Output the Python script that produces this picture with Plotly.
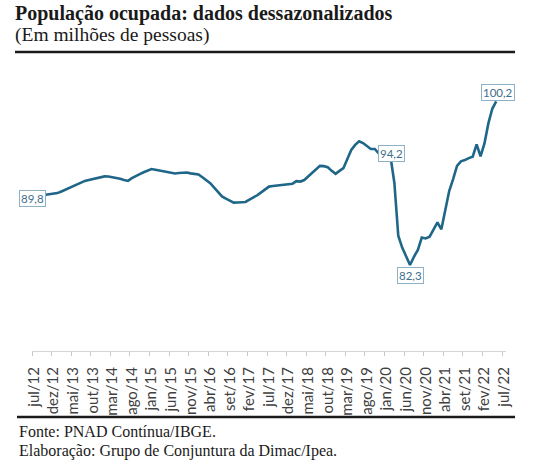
import plotly.graph_objects as go

# ---------------- data ----------------
tick_labels = ["jul/12", "dez/12", "mai/13", "out/13", "mar/14", "ago/14", "jan/15", "jun/15",
               "nov/15", "abr/16", "set/16", "fev/17", "jul/17", "dez/17", "mai/18", "out/18",
               "mar/19", "ago/19", "jan/20", "jun/20", "nov/20", "abr/21", "set/21", "fev/22",
               "jul/22"]

# População ocupada dessazonalizada (milhões), mensal jul/12 .. mai/22
ocupados = [
    89.8, 89.85, 89.9, 89.95, 90.0, 90.1, 90.17, 90.35, 90.55, 90.73,
    90.95, 91.17, 91.37, 91.5, 91.6, 91.72, 91.82, 91.92, 92.0, 91.98,
    91.93, 91.88, 91.75, 91.6, 91.5, 91.8, 92.05, 92.25, 92.45, 92.63,
    92.8, 92.73, 92.65, 92.57, 92.47, 92.37, 92.32, 92.37, 92.42, 92.43,
    92.33, 92.25, 92.2, 91.9, 91.57, 91.25, 90.77, 90.28, 89.8, 89.56,
    89.33, 89.12, 89.14, 89.17, 89.2, 89.45, 89.68, 89.93, 90.25, 90.58,
    90.88, 90.94, 91.0, 91.06, 91.1, 91.16, 91.2, 91.48, 91.43, 91.6,
    92.0, 92.38, 92.75, 93.15, 93.12, 93.0, 92.6, 92.27, 92.6, 92.9,
    93.9, 94.9, 95.45, 95.85, 95.65, 95.35, 95.0, 95.0, 94.53, 94.4,
    94.3, 94.2, 91.3, 85.5, 84.2, 83.2, 82.3, 83.2, 83.95, 85.3,
    85.2, 85.4, 86.2, 86.95, 86.2, 88.3, 90.4, 91.7, 93.15, 93.65,
    93.78, 94.0, 94.15, 95.5, 94.2, 95.6, 97.8, 99.4, 100.2,
]

n_categories = 121          # jul/12 .. jul/22 on the axis
tick_step = 5
labelled_points = [0, 91, 96, 118]

# ---------------- styling ----------------
LINE = "#1f6689"
LABEL_TXT = "#3f6d8c"
LABEL_BORDER = "#8fb1c7"
label_shift = {0: (-1, -2.5), 91: (1, 2.3), 96: (0, -10.5), 118: (1.5, 9.3)}

months = list(range(len(ocupados)))
tickvals = list(range(0, n_categories, tick_step))
boundaries = [v - 0.5 for v in tickvals]

fig = go.Figure()
fig.add_trace(go.Scatter(x=months, y=ocupados, mode="lines",
                         line=dict(color=LINE, width=2.6), hoverinfo="skip",
                         showlegend=False))
# helper trace for the boundary tick-mark axis
fig.add_trace(go.Scatter(x=months, y=ocupados, mode="lines", xaxis="x2",
                         line=dict(width=0, color="rgba(0,0,0,0)"), hoverinfo="skip",
                         showlegend=False))

for i in labelled_points:
    dx, dy = label_shift[i]
    fig.add_annotation(x=i, y=ocupados[i], text=f"{ocupados[i]:.1f}".replace(".", ","),
                       showarrow=False, xshift=dx, yshift=dy,
                       bgcolor="white", bordercolor=LABEL_BORDER, borderwidth=1, borderpad=1,
                       font=dict(family="Lato", size=11.5, color=LABEL_TXT))

W, H = 551, 476
L, R, T, B = 32, 45, 60, 125
pw, ph = W - L - R, H - T - B


def px(xp):
    return (xp - L) / pw


def py(yp):
    return (H - B - yp) / ph


serif = "Liberation Serif"
fig.add_annotation(xref="paper", yref="paper", x=px(12.5), y=py(14), xanchor="left", yanchor="middle",
                   text="<b>População ocupada: dados dessazonalizados</b>", showarrow=False,
                   font=dict(family=serif, size=20, color="#1a1a1a"))
fig.add_annotation(xref="paper", yref="paper", x=px(12.5), y=py(34.5), xanchor="left", yanchor="middle",
                   text="(Em milhões de pessoas)", showarrow=False,
                   font=dict(family=serif, size=19.5, color="#1a1a1a"))
fig.add_annotation(xref="paper", yref="paper", x=px(16.5), y=py(432), xanchor="left", yanchor="middle",
                   text="Fonte: PNAD Contínua/IBGE.", showarrow=False,
                   font=dict(family=serif, size=16, color="#1a1a1a"))
fig.add_annotation(xref="paper", yref="paper", x=px(16.5), y=py(450.5), xanchor="left", yanchor="middle",
                   text="Elaboração: Grupo de Conjuntura da Dimac/Ipea.", showarrow=False,
                   font=dict(family=serif, size=16, color="#1a1a1a"))

fig.add_shape(type="line", xref="paper", yref="paper", x0=px(15), x1=px(515), y0=py(52), y1=py(52),
              line=dict(color="#1a1a1a", width=2.5))
fig.add_shape(type="line", xref="paper", yref="paper", x0=px(17), x1=px(515), y0=py(417), y1=py(417),
              line=dict(color="#1a1a1a", width=2.5))

xrange = [-0.5, n_categories - 0.5]
fig.update_layout(
    width=W, height=H, margin=dict(l=L, r=R, t=T, b=B),
    paper_bgcolor="white", plot_bgcolor="white",
    xaxis=dict(range=xrange, tickmode="array", tickvals=tickvals, ticktext=tick_labels,
               tickangle=-90, ticks="outside", ticklen=9, tickcolor="rgba(0,0,0,0)",
               showline=False, showgrid=False, zeroline=False,
               tickfont=dict(family="Lato", size=15, color="#404040")),
    xaxis2=dict(range=xrange, overlaying="x", anchor="y", side="bottom",
                tickmode="array", tickvals=boundaries, ticks="outside", ticklen=4,
                tickcolor="#c8c8c8", tickwidth=1, showticklabels=False,
                showline=True, linecolor="#d4d4d4", linewidth=1,
                showgrid=False, zeroline=False),
    yaxis=dict(range=[72.88, 104.74], visible=False),
)

fig.write_html("out.html", config={"displayModeBar": False},
               post_script="document.body.style.margin='0px';")
